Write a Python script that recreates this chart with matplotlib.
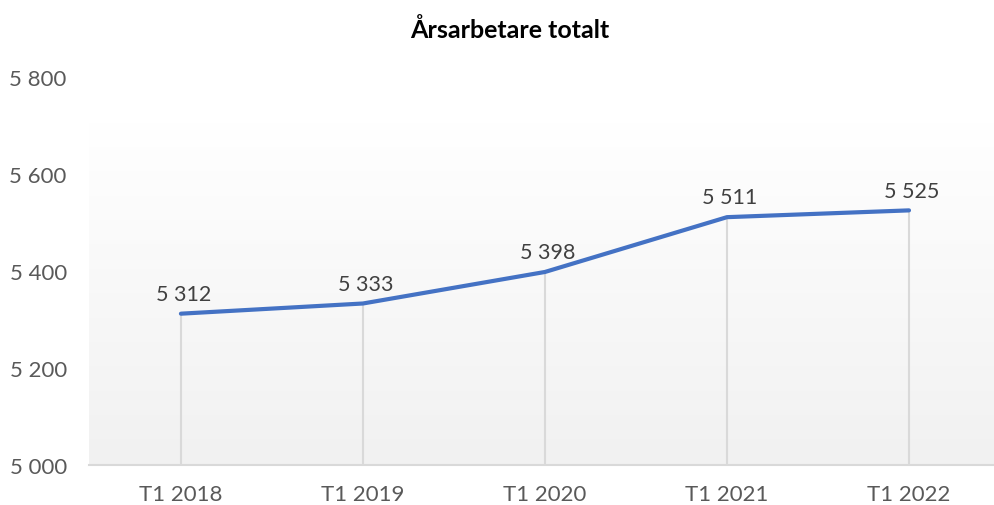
import numpy as np
import matplotlib
matplotlib.use("Agg")
import matplotlib.pyplot as plt
from matplotlib.ticker import FuncFormatter

# data
periods = ["T1 2018", "T1 2019", "T1 2020", "T1 2021", "T1 2022"]
arsarbetare = [5312, 5333, 5398, 5511, 5525]
y_ticks = [5000, 5200, 5400, 5600, 5800]
title = "Årsarbetare totalt"


def sv_format(v, pos=None):
    return f"{int(round(v)):,}".replace(",", " ")


plt.rcParams["font.family"] = ["Lato", "DejaVu Sans"]

fig = plt.figure(figsize=(9.94, 5.06), dpi=100)
ax = fig.add_axes([89 / 994, 1 - 466 / 506, 1 - 89 / 994, (466 - 78) / 506])

x = np.arange(len(periods))
ax.set_xlim(-0.505, 4.467)
ax.set_ylim(5000, 5800)

# gradient background: white at top, light grey at bottom
t = np.linspace(0.0, 1.0, 256)[:, None, None]  # 0 = top row, 1 = bottom row
top_col = np.array([1.0, 1.0, 1.0])
bot_col = np.array([0.945, 0.945, 0.945])
img = (1 - t) * top_col + t * bot_col
ax.imshow(img, extent=[-0.505, 4.467, 5000, 5707], aspect="auto", origin="upper", zorder=0)

# drop lines
ax.vlines(x, 5000, arsarbetare, color="#d9d9d9", linewidth=1.5, zorder=1)

ax.plot(x, arsarbetare, color="#4472C4", linewidth=3, solid_capstyle="round", zorder=3)

for xi, v in zip(x, arsarbetare):
    ax.annotate(sv_format(v), (xi, v), xytext=(2, 7), textcoords="offset points",
                ha="center", va="bottom", fontsize=15.5, color="#404040", zorder=4)

ax.set_xticks(x)
ax.set_xticklabels(periods)
ax.set_yticks(y_ticks)
ax.yaxis.set_major_formatter(FuncFormatter(sv_format))
ax.tick_params(axis="x", length=0, pad=14, labelsize=16, labelcolor="#595959")
ax.tick_params(axis="y", length=0, pad=16, labelsize=16, labelcolor="#595959")

for side in ["left", "right", "top"]:
    ax.spines[side].set_visible(False)
ax.spines["bottom"].set_color("#d9d9d9")
ax.spines["bottom"].set_linewidth(1.5)
ax.set_facecolor("white")

fig.text(510 / 994, 1 - 30 / 506, title, ha="center", va="center",
         fontsize=18, fontweight="bold", color="black")

fig.savefig("out.png", dpi=100)
